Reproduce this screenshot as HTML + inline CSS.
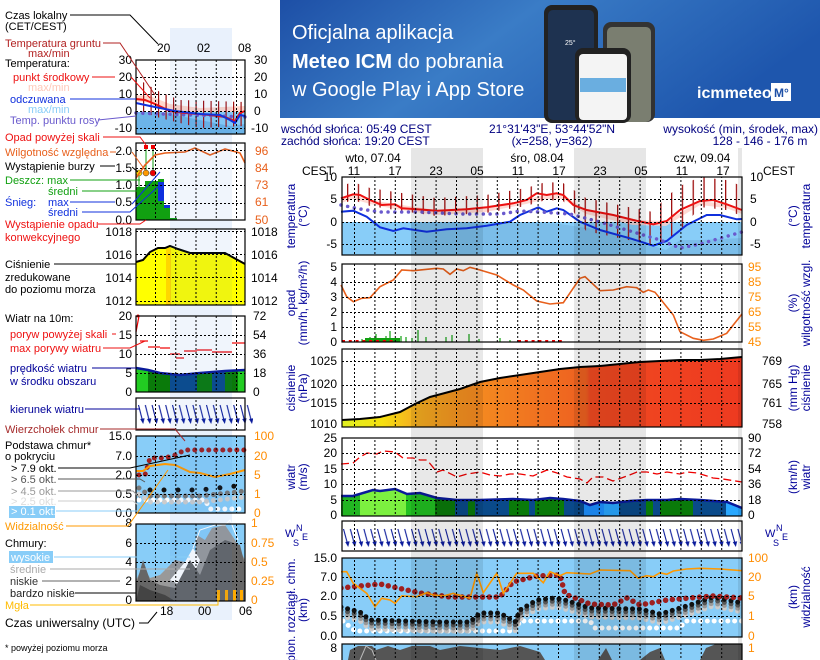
<!DOCTYPE html>
<html><head><meta charset="utf-8"><style>
html,body{margin:0;padding:0;background:#fff;}
svg{display:block;font-family:"Liberation Sans",sans-serif;}
</style></head><body>
<svg width="820" height="660" viewBox="0 0 820 660" xmlns="http://www.w3.org/2000/svg">
<defs>
<linearGradient id="ban" x1="0" y1="0" x2="1" y2="0.3"><stop offset="0" stop-color="#1d4fa6"/><stop offset="0.45" stop-color="#3a7cc6"/><stop offset="1" stop-color="#1e56ad"/></linearGradient>
<linearGradient id="pres" x1="342" y1="0" x2="742" y2="0" gradientUnits="userSpaceOnUse">
<stop offset="0" stop-color="#e0f020"/><stop offset="0.1" stop-color="#f5e010"/><stop offset="0.18" stop-color="#f5b020"/><stop offset="0.3" stop-color="#f59020"/><stop offset="0.5" stop-color="#f07020"/><stop offset="0.61" stop-color="#ee6020"/><stop offset="0.62" stop-color="#f04a20"/><stop offset="1" stop-color="#ee3a20"/></linearGradient>
<clipPath id="cw"><polygon points="341,496 353,496 373,490 380,491 395,489 407,494 420,493 437,498 457,500 480,500 513,499 533,500 550,498 563,499 580,501 590,505 600,502 613,503 630,501 647,500 667,500 680,499 700,500 727,502 742,508 742,516 341,516"/></clipPath>
<clipPath id="cwl"><polygon points="136,368 148,370 160,373 180,375 200,373 225,371 245,370 245,392 136,392"/></clipPath>
<clipPath id="mp"><rect x="342" y="177" width="400" height="78"/><rect x="342" y="264" width="400" height="78"/><rect x="342" y="349" width="400" height="78"/><rect x="342" y="438" width="400" height="78"/><rect x="342" y="521" width="400" height="30"/><rect x="342" y="558" width="400" height="79"/><rect x="342" y="644" width="400" height="16"/></clipPath>
<clipPath id="cb"><rect x="342" y="558" width="400" height="79"/></clipPath>
<clipPath id="lp"><rect x="136" y="60" width="109" height="74"/><rect x="136" y="143" width="109" height="77"/><rect x="136" y="229" width="109" height="76"/><rect x="136" y="316" width="109" height="76"/><rect x="136" y="398" width="109" height="32"/><rect x="136" y="436" width="109" height="77"/><rect x="136" y="524" width="109" height="77"/></clipPath>
<pattern id="vg" x="354" y="0" width="20.4" height="4" patternUnits="userSpaceOnUse"><rect x="0" y="0" width="1" height="2" fill="#000"/></pattern>
<pattern id="lvg" x="155" y="0" width="20.25" height="4" patternUnits="userSpaceOnUse"><rect x="0" y="0" width="1" height="2" fill="#000"/></pattern>
<pattern id="tb" x="347" y="0" width="10.8" height="10" patternUnits="userSpaceOnUse"><rect x="0" y="0" width="1.3" height="10" fill="#a01010"/></pattern>
<pattern id="ltb" x="143" y="0" width="7.5" height="10" patternUnits="userSpaceOnUse"><rect x="0" y="0" width="1.2" height="10" fill="#a01010"/></pattern>
<pattern id="arr" x="343" y="522" width="6.8" height="30" patternUnits="userSpaceOnUse"><line x1="0.5" y1="7" x2="4.3" y2="21" stroke="#0a1a9a" stroke-width="1.1"/><polygon points="5.2,25 2.2,20 6.6,19.3" fill="#0a1a9a"/></pattern>
<pattern id="larr" x="138" y="399" width="6.8" height="32" patternUnits="userSpaceOnUse"><line x1="0.5" y1="6" x2="4.3" y2="21" stroke="#0a1a9a" stroke-width="1.1"/><polygon points="5.2,25 2.2,20 6.6,19.3" fill="#0a1a9a"/></pattern>
</defs>
<rect x="280" y="0" width="540" height="118" fill="url(#ban)"/>
<text x="292" y="39" font-size="20" fill="#fff">Oficjalna aplikacja</text>
<text x="292" y="68" font-size="20" fill="#fff"><tspan font-weight="bold">Meteo ICM</tspan> do pobrania</text>
<text x="292" y="96" font-size="20" fill="#fff">w Google Play i App Store</text>
<rect x="544" y="5" width="54" height="118" rx="8" fill="#222"/><rect x="548" y="10" width="46" height="110" rx="5" fill="#1e3250"/>
<text x="565" y="45" font-size="7" fill="#fff">25°</text>
<rect x="603" y="22" width="52" height="100" rx="8" fill="#333"/><rect x="607" y="27" width="44" height="95" rx="5" fill="#7a7e70"/>
<rect x="575" y="48" width="56" height="75" rx="8" fill="#222"/><rect x="579" y="54" width="48" height="66" rx="4" fill="#f4f4f4"/>
<rect x="580" y="78" width="46" height="14" fill="#6aaee0"/>
<text x="697" y="98" font-size="16" font-weight="bold" fill="#fff">icmmeteo</text>
<rect x="771" y="83" width="20" height="18" fill="#fff"/><text x="774" y="97" font-size="12" font-weight="bold" fill="#1d4fa6">M°</text>
<g font-size="12" fill="#000080">
<text x="281" y="133">wschód słońca: 05:49 CEST</text>
<text x="281" y="145">zachód słońca: 19:20 CEST</text>
<text x="552" y="133" text-anchor="middle">21°31'43"E, 53°44'52"N</text>
<text x="552" y="145" text-anchor="middle">(x=258,  y=362)</text>
<text x="818" y="133" text-anchor="end">wysokość (min, środek, max)</text>
<text x="760" y="145" text-anchor="middle">128 - 146 - 176 m</text>
</g>
<rect x="411" y="148" width="72" height="512" fill="#e6e6e6"/><rect x="574" y="148" width="72" height="512" fill="#e6e6e6"/><rect x="738" y="148" width="4" height="512" fill="#e6e6e6"/>
<g font-size="12" fill="#000">
<text x="373" y="162" text-anchor="middle">wto, 07.04</text>
<text x="537" y="162" text-anchor="middle">śro, 08.04</text>
<text x="702" y="162" text-anchor="middle">czw, 09.04</text>
<text x="302" y="175">CEST</text><text x="763" y="175">CEST</text>
<text x="354" y="175" text-anchor="middle">11</text><text x="395" y="175" text-anchor="middle">17</text>
<text x="436" y="175" text-anchor="middle">23</text><text x="477" y="175" text-anchor="middle">05</text>
<text x="518" y="175" text-anchor="middle">11</text><text x="559" y="175" text-anchor="middle">17</text>
<text x="600" y="175" text-anchor="middle">23</text><text x="641" y="175" text-anchor="middle">05</text>
<text x="682" y="175" text-anchor="middle">11</text><text x="723" y="175" text-anchor="middle">17</text>
</g>
<rect x="170" y="28" width="62" height="592" fill="#e9f1fc"/>
<g fill="#fff">
<rect x="342" y="177" width="400" height="45"/><rect x="342" y="264" width="400" height="78"/><rect x="342" y="349" width="400" height="78"/><rect x="342" y="438" width="400" height="78"/><rect x="342" y="521" width="400" height="30"/>
<rect x="136" y="60" width="109" height="74"/><rect x="136" y="143" width="109" height="77"/><rect x="136" y="229" width="109" height="76"/><rect x="136" y="316" width="109" height="76"/><rect x="136" y="398" width="109" height="32"/>
</g>
<rect x="342" y="222" width="400" height="33" fill="#88cdf8"/>
<polygon points="411,222 483,222 520,222 560,224 600,230 630,238 653,246 666,250 680,240 700,240 742,238 742,255 411,255" fill="#7bbde9"/>
<polygon points="341,199 353,195 370,200 395,204 436,210 486,207 526,200 546,194 563,195 586,210 633,220 666,221 700,201 726,204 742,210 742,214 726,208 700,205 666,226 633,225 586,214 563,199 546,199 526,204 486,212 436,215 395,209 370,204 353,199 341,203" fill="#ffd0c8" opacity="0.8"/>
<polygon fill="url(#tb)" points="341,186 353,182 370,188 395,192 436,198 486,195 526,188 546,182 563,183 586,198 633,208 653,212 666,197 680,186 700,177 726,180 742,186 742,216 726,210 700,207 680,231 666,242 653,245 633,241 586,231 573,211 563,201 546,200 526,206 486,213 436,216 395,210 370,206 353,200 341,204"/>
<polyline fill="none" stroke="#ee1111" stroke-width="2" points="341,198.3 353.3,194.3 360,195 370,200 381.7,205 395,204.3 401.7,208.3 413.3,209 436.7,210.7 466.7,209.3 486.7,207.3 513.3,203.3 526.7,200 536.7,193.3 546.7,195 556.7,193.3 563.3,195 573.3,205 586.7,210 613.3,215 633.3,220 653.3,224.3 666.7,221 680,210 700,201 713.3,200 726.7,204.3 742,210"/>
<polyline fill="none" stroke="#1030dd" stroke-width="2" points="341,211.7 353.3,210.7 366.7,216.7 380,227.3 393.3,231 403.3,228.3 426.7,231.7 446.7,229.3 466.7,228.3 486.7,225.7 510,221.7 520,215 538.3,207.3 546.7,211.7 556.7,208.3 563.3,210 580,221.7 600,230 630,238.3 653.3,245.7 666.7,241 686.7,225 706.7,215 720,215 736.7,219.3 742,219"/>
<polyline fill="none" stroke="#6a5acd" stroke-width="3.5" stroke-linecap="round" stroke-dasharray="0.01,6.8" points="341,205 360,209 380,212 420,212 460,214 500,214 520,211 540,212 570,214 600,222 630,231 660,240 680,248 700,244 742,232"/>
<rect x="365" y="338" width="35" height="4" fill="#11a011"/>
<g stroke="#11a011" stroke-width="1.2">
<line x1="362" y1="339" x2="362" y2="342"/><line x1="370" y1="337" x2="370" y2="342"/><line x1="376" y1="334" x2="376" y2="342"/><line x1="386" y1="336" x2="386" y2="342"/><line x1="390" y1="331" x2="390" y2="342"/><line x1="401" y1="336" x2="401" y2="342"/><line x1="406" y1="337" x2="406" y2="342"/><line x1="412" y1="338" x2="412" y2="342"/><line x1="418" y1="330" x2="418" y2="342"/><line x1="426" y1="337" x2="426" y2="342"/><line x1="446" y1="337" x2="446" y2="342"/><line x1="452" y1="335" x2="452" y2="342"/><line x1="469" y1="334" x2="469" y2="342"/><line x1="479" y1="339" x2="479" y2="342"/><line x1="500" y1="338" x2="500" y2="342"/><line x1="510" y1="340" x2="510" y2="342"/></g>
<line x1="342" y1="341" x2="395" y2="341" stroke="#e00" stroke-width="2" stroke-dasharray="3,3.8"/>
<line x1="518" y1="341" x2="565" y2="341" stroke="#e00" stroke-width="2" stroke-dasharray="3,3.8"/>
<polyline fill="none" stroke="#e8601c" stroke-width="1.6" points="341,285 346.7,296.7 353.3,301.7 361.7,298.3 370,297.7 380,286.7 393.3,280 401.7,270 413.3,270.7 436.7,268.3 443.3,269 450,274.3 456.7,269 463.3,270.7 470,267.3 480,270 496.7,275 513.3,285 523.3,290 536.7,301 550,304 563.3,302.7 580,278.3 585,276.7 600,290.7 613.3,290 626.7,286.7 636.7,287.7 643.3,292.3 648.3,290 655,292.3 673.3,315 680,331.7 693.3,338.3 703.3,340.3 713.3,339 726.7,333.3 742,314"/>
<polygon fill="url(#pres)" points="342,420 360,419 380,417 400,412 415,404 430,397 445,393 460,389 480,382 500,378 520,375 540,372 560,369 580,367 600,366 620,364 640,362 660,361 680,360 700,360 720,359 742,357 742,427 342,427"/>
<polyline fill="none" stroke="#000" stroke-width="2" points="342,420 360,419 380,417 400,412 415,404 430,397 445,393 460,389 480,382 500,378 520,375 540,372 560,369 580,367 600,366 620,364 640,362 660,361 680,360 700,360 720,359 742,357"/>
<g clip-path="url(#cw)">
<rect x="341" y="480" width="20" height="40" fill="#22b522"/><rect x="360" y="480" width="47" height="40" fill="#7cf040"/><rect x="406" y="480" width="30" height="40" fill="#22c022"/>
<rect x="435" y="480" width="21" height="40" fill="#0a7a0a"/><rect x="455" y="480" width="14" height="40" fill="#0a4a8a"/><rect x="468" y="480" width="8" height="40" fill="#0a7a0a"/>
<rect x="475" y="480" width="35" height="40" fill="#0a4a8a"/><rect x="509" y="480" width="21" height="40" fill="#0a7a0a"/><rect x="529" y="480" width="7" height="40" fill="#0a4a8a"/>
<rect x="535" y="480" width="30" height="40" fill="#0a7a0a"/><rect x="564" y="480" width="21" height="40" fill="#0a4a8a"/><rect x="584" y="480" width="21" height="40" fill="#1e90ff"/>
<rect x="604" y="480" width="16" height="40" fill="#2aa8ff"/><rect x="619" y="480" width="28" height="40" fill="#0a4a8a"/><rect x="646" y="480" width="8" height="40" fill="#0a7a0a"/>
<rect x="653" y="480" width="8" height="40" fill="#0a4a8a"/><rect x="660" y="480" width="34" height="40" fill="#0a7a0a"/><rect x="693" y="480" width="34" height="40" fill="#0a4a8a"/><rect x="726" y="480" width="16" height="40" fill="#2aa8ff"/>
</g>
<polyline fill="none" stroke="#0a1a9a" stroke-width="2.5" points="341,496 353,496 373,490 380,491 395,489 407,494 420,493 437,498 457,500 480,500 513,499 533,500 550,498 563,499 580,501 590,505 600,502 613,503 630,501 647,500 667,500 680,499 700,500 727,502 742,508"/>
<polyline fill="none" stroke="#e00" stroke-width="1.3" stroke-dasharray="8,4" points="341,464 353,463 360,457 367,453 377,454 383,451 395,452 403,458 413,458 420,460 427,460 437,472 443,470 457,477 467,474 480,472 490,475 500,476 510,474 520,474 533,476 547,470 557,473 567,477 580,479 587,483 593,477 603,477 613,481 627,476 637,472 647,472 657,474 667,472 680,474 687,472 697,473 707,476 713,478 723,479 742,482"/>
<rect x="343" y="522" width="398" height="28" fill="url(#arr)"/>
<rect x="342" y="558" width="400" height="79" fill="#88cdf8"/>
<g fill="none" stroke-width="5" stroke-linecap="round" stroke-dasharray="0.01,6.8" clip-path="url(#cb)">
<polyline stroke="#fff" points="343,621 355,631 515,631 520,621 590,621 595,628 680,628 685,621 742,621"/>
<polyline stroke="#ccc" transform="translate(0,9)" points="341,607 360,612 370,620 440,622 470,622 480,613 500,613 515,622 520,610 537,600 555,598 565,600 590,608 640,609 660,614 667,612 690,605 713,597 742,603"/>
<polyline stroke="#999" transform="translate(0,6)" points="341,607 360,612 370,620 440,622 470,622 480,613 500,613 515,622 520,610 537,600 555,598 565,600 590,608 640,609 660,614 667,612 690,605 713,597 742,603"/>
<polyline stroke="#555" transform="translate(0,3)" points="341,607 360,612 370,620 440,622 470,622 480,613 500,613 515,622 520,610 537,600 555,598 565,600 590,608 640,609 660,614 667,612 690,605 713,597 742,603"/>
<polyline stroke="#111" points="341,607 360,612 370,620 440,622 470,622 480,613 500,613 515,622 520,610 537,600 555,598 565,600 590,608 640,609 660,614 667,612 690,605 713,597 742,603"/>
<polyline stroke="#a02020" stroke-width="5.5" points="341,588 380,584 420,593 450,597 500,597 513,582 537,576 560,575 565,594 590,604 613,605 627,598 640,605 667,600 713,596 742,598"/>
</g>
<polyline fill="none" stroke="#ff9900" stroke-width="1.6" points="341,571.7 346.7,571.7 353.3,583.3 366.7,593.3 375,606.7 381.7,598.3 390,600 395,603.3 401.7,596 416.7,596.7 426.7,592.7 433.3,595 443.3,596 453.3,593.3 470,598.3 476.7,573.3 483.3,592.7 496.7,573.3 503.3,593.3 516.7,573.3 533.3,573.3 543.3,582.7 550,571.7 560,575.7 566.7,572.7 590,574 600,570 630,570.7 638.3,578.3 646.7,575.7 653.3,576.7 660,572.7 666.7,574.3 673.3,571 686.7,569 700,568.3 720,569 742,570.7"/>
<rect x="342" y="644" width="400" height="16" fill="#88cdf8"/>
<polygon fill="#555" points="348,660 350,650 358,646 372,646 376,650 388,646 400,650 412,646 430,646 440,650 460,646 480,648 500,650 520,646 540,652 545,660"/>
<polygon fill="#555" points="598,660 606,648 612,660 640,660 650,652 660,648 665,660"/>
<polygon fill="#555" points="700,660 706,648 716,644 742,644 742,660"/>
<polyline fill="none" stroke="#bbb" stroke-width="1" points="360,660 366,646 372,650 376,660"/>
<g clip-path="url(#mp)">
<rect x="411" y="177" width="72" height="483" fill="#000" opacity="0.09"/><rect x="574" y="177" width="72" height="483" fill="#000" opacity="0.09"/><rect x="738" y="177" width="4" height="483" fill="#000" opacity="0.09"/>
<rect x="342" y="177" width="400" height="483" fill="url(#vg)"/>
</g>
<g stroke="#000" stroke-dasharray="2,2" stroke-width="1">
<line x1="342" y1="199.5" x2="742" y2="199.5"/><line x1="342" y1="222.5" x2="742" y2="222.5"/><line x1="342" y1="244.5" x2="742" y2="244.5"/>
<line x1="342" y1="282.5" x2="742" y2="282.5"/><line x1="342" y1="297.5" x2="742" y2="297.5"/><line x1="342" y1="312.5" x2="742" y2="312.5"/><line x1="342" y1="327.5" x2="742" y2="327.5"/>
<line x1="342" y1="361.5" x2="742" y2="361.5"/><line x1="342" y1="385.5" x2="742" y2="385.5"/><line x1="342" y1="403.5" x2="742" y2="403.5"/>
<line x1="342" y1="453.5" x2="742" y2="453.5"/><line x1="342" y1="469.5" x2="742" y2="469.5"/><line x1="342" y1="484.5" x2="742" y2="484.5"/><line x1="342" y1="500.5" x2="742" y2="500.5"/>
<line x1="342" y1="577.5" x2="742" y2="577.5"/><line x1="342" y1="596.5" x2="742" y2="596.5"/><line x1="342" y1="616.5" x2="742" y2="616.5"/>
</g>
<g fill="none" stroke="#000" stroke-width="1.2">
<rect x="342" y="177" width="400" height="78"/><rect x="342" y="264" width="400" height="78"/><rect x="342" y="349" width="400" height="78"/><rect x="342" y="438" width="400" height="78"/><rect x="342" y="521" width="400" height="30"/><rect x="342" y="558" width="400" height="79"/><rect x="342" y="644" width="400" height="30"/>
</g>
<g font-size="12" fill="#000">
<text x="337" y="181" text-anchor="end">10</text><text x="337" y="203" text-anchor="end">5</text><text x="337" y="226" text-anchor="end">0</text><text x="337" y="248" text-anchor="end">-5</text>
<text x="750" y="181">10</text><text x="750" y="203">5</text><text x="750" y="226">0</text><text x="750" y="248">-5</text>
<text x="337" y="271" text-anchor="end">5</text><text x="337" y="286" text-anchor="end">4</text><text x="337" y="301" text-anchor="end">3</text><text x="337" y="316" text-anchor="end">2</text><text x="337" y="331" text-anchor="end">1</text><text x="337" y="346" text-anchor="end">0</text>
<text x="337" y="365" text-anchor="end">1025</text><text x="337" y="388" text-anchor="end">1020</text><text x="337" y="407" text-anchor="end">1015</text><text x="337" y="428" text-anchor="end">1010</text>
<text x="762" y="365">769</text><text x="762" y="388">765</text><text x="762" y="407">761</text><text x="762" y="428">758</text>
<text x="337" y="442" text-anchor="end">25</text><text x="337" y="457" text-anchor="end">20</text><text x="337" y="473" text-anchor="end">15</text><text x="337" y="488" text-anchor="end">10</text><text x="337" y="504" text-anchor="end">5</text><text x="337" y="519" text-anchor="end">0</text>
<text x="748" y="442">90</text><text x="748" y="457">72</text><text x="748" y="473">54</text><text x="748" y="488">36</text><text x="748" y="504">18</text><text x="748" y="519">0</text>
<text x="337" y="562" text-anchor="end">15.0</text><text x="337" y="581" text-anchor="end">7.0</text><text x="337" y="600" text-anchor="end">2.0</text><text x="337" y="620" text-anchor="end">0.5</text><text x="337" y="640" text-anchor="end">0.0</text>
<text x="337" y="652" text-anchor="end">8</text>
</g>
<g font-size="12" fill="#ff8c00">
<text x="748" y="271">95</text><text x="748" y="286">85</text><text x="748" y="301">75</text><text x="748" y="316">65</text><text x="748" y="331">55</text><text x="748" y="346">45</text>
<text x="748" y="562">100</text><text x="748" y="581">20</text><text x="748" y="600">5</text><text x="748" y="620">1</text><text x="748" y="640">0</text><text x="748" y="652">1</text>
</g>
<g font-size="12" fill="#000099" text-anchor="middle">
<text transform="translate(295,216) rotate(-90)">temperatura</text><text transform="translate(307,216) rotate(-90)">(°C)</text>
<text transform="translate(797,216) rotate(-90)">(°C)</text><text transform="translate(810,216) rotate(-90)">temperatura</text>
<text transform="translate(295,303) rotate(-90)">opad</text><text transform="translate(307,303) rotate(-90)">(mm/h, kg/m²/h)</text>
<text transform="translate(797,303) rotate(-90)">(%)</text><text transform="translate(810,303) rotate(-90)">wilgotność wzgl.</text>
<text transform="translate(295,388) rotate(-90)">ciśnienie</text><text transform="translate(307,388) rotate(-90)">(hPa)</text>
<text transform="translate(797,388) rotate(-90)">(mm Hg)</text><text transform="translate(810,388) rotate(-90)">ciśnienie</text>
<text transform="translate(295,477) rotate(-90)">wiatr</text><text transform="translate(307,477) rotate(-90)">(m/s)</text>
<text transform="translate(797,477) rotate(-90)">(km/h)</text><text transform="translate(810,477) rotate(-90)">wiatr</text>
<text transform="translate(295,610) rotate(-90)">pion. rozciągł. chm.</text><text transform="translate(307,610) rotate(-90)">(km)</text>
<text transform="translate(797,597) rotate(-90)">(km)</text><text transform="translate(810,597) rotate(-90)">widzialność</text>
</g>
<g font-size="11" fill="#000099"><text x="285" y="537">W</text><text x="296" y="531" font-size="9">N</text><text x="293" y="546" font-size="9">S</text><text x="302" y="540" font-size="9">E</text>
<text x="765" y="537">W</text><text x="776" y="531" font-size="9">N</text><text x="773" y="546" font-size="9">S</text><text x="782" y="540" font-size="9">E</text></g>

<polygon points="136,95 150,96 170,104 200,108 245,106 245,118 200,117 170,113 150,103 136,101" fill="#ffd8cc"/>
<polygon points="136,112 245,112 245,134 136,134" fill="#88cdf8"/>
<polygon points="136,112 160,112 200,120 230,126 245,124 245,134 136,134" fill="#6cb4e8"/>
<polygon fill="url(#ltb)" points="136,78 160,92 180,100 245,102 245,126 200,128 160,118 136,110"/>
<polyline fill="none" stroke="#6a5acd" stroke-width="3.5" stroke-linecap="round" stroke-dasharray="0.01,6.8" points="136,113 245,117"/>
<polyline fill="none" stroke="#ee1111" stroke-width="2" points="136,99 145,100 155,104 170,111 185,113 210,115 225,117 235,121 240,113 245,111"/>
<polyline fill="none" stroke="#1030dd" stroke-width="2" points="136,103 150,106 165,109 175,111 200,114 220,115 230,120 235,123 240,115 245,116"/>
<rect x="136" y="187" width="9" height="33" fill="#11a011"/><rect x="145" y="181" width="13" height="39" fill="#11a011"/><rect x="158" y="179" width="6" height="41" fill="#11a011"/>
<rect x="158" y="182" width="6" height="19" fill="#1030dd"/><rect x="164" y="205" width="6" height="15" fill="#11a011"/><rect x="164" y="205" width="6" height="3" fill="#1030dd"/><rect x="170" y="218" width="7" height="2" fill="#11a011"/>
<line x1="146" y1="147" x2="146" y2="173" stroke="#11a011"/><line x1="153" y1="147" x2="153" y2="173" stroke="#11a011"/><line x1="139" y1="173" x2="139" y2="187" stroke="#11a011"/>
<rect x="144" y="145" width="4" height="4" fill="#e00"/><rect x="151" y="145" width="4" height="4" fill="#e00"/>
<circle cx="139" cy="173" r="3" fill="#ffdd00" stroke="#333" stroke-width=".5"/><circle cx="146" cy="173" r="3" fill="#ff9900" stroke="#333" stroke-width=".5"/><circle cx="153" cy="173" r="3" fill="#e00" stroke="#333" stroke-width=".5"/>
<polyline fill="none" stroke="#e8601c" stroke-width="1.6" points="136,178 145,165 155,155 165,153 185,152 195,148 210,155 225,149 240,153 245,163"/>
<polygon fill="#ffff00" points="136,262 143,260 150,252 158,248 165,248 170,246 178,249 190,253 225,253 245,264 245,305 136,305"/>
<rect x="166" y="248" width="5" height="57" fill="#ffd700"/>
<polyline fill="none" stroke="#000" stroke-width="2" points="136,262 143,260 150,252 158,248 165,248 170,246 178,249 190,253 225,253 245,264"/>
<g clip-path="url(#cwl)">
<rect x="136" y="360" width="12" height="35" fill="#22cc22"/><rect x="148" y="360" width="22" height="35" fill="#0a7a0a"/><rect x="170" y="360" width="27" height="35" fill="#0a4a8a"/>
<rect x="197" y="360" width="15" height="35" fill="#0a7a0a"/><rect x="212" y="360" width="13" height="35" fill="#0a4a8a"/><rect x="225" y="360" width="13" height="35" fill="#0a7a0a"/><rect x="238" y="360" width="7" height="35" fill="#22cc22"/>
</g>
<polyline fill="none" stroke="#0a1a9a" stroke-width="2.5" points="136,368 148,370 160,373 180,375 200,373 225,371 245,370"/>
<g stroke="#e00" stroke-width="1.2"><line x1="136" y1="332" x2="139" y2="316"/><line x1="140" y1="341" x2="148" y2="341"/><line x1="148" y1="347" x2="160" y2="347"/><line x1="160" y1="348" x2="170" y2="348"/><line x1="170" y1="354" x2="180" y2="354"/><line x1="176" y1="358" x2="184" y2="358"/><line x1="184" y1="351" x2="197" y2="351"/><line x1="197" y1="350" x2="212" y2="350"/><line x1="212" y1="352" x2="232" y2="352"/><line x1="232" y1="343" x2="245" y2="343"/></g>
<circle cx="138" cy="316" r="1.5" fill="#e00"/>
<rect x="138" y="399" width="115" height="31" fill="url(#larr)"/>
<rect x="136" y="436" width="109" height="77" fill="#88cdf8"/>
<g fill="none" stroke-width="5" stroke-linecap="round" stroke-dasharray="0.01,7">
<polyline stroke="#fff" points="139,500 205,500 210,509 245,509"/>
<polyline stroke="#ccc" points="139,494 150,502 200,502 245,497"/>
<polyline stroke="#777" points="139,488 150,496 200,496 245,491"/>
<polyline stroke="#111" stroke-dasharray="0.01,14" points="150,490 200,490 245,485"/>
<polyline stroke="#a02020" points="139,475 145,475 150,458 165,458 175,455 185,450 245,450"/>
</g>
<polyline fill="none" stroke="#ff9900" stroke-width="2" points="136,471 143,471 150,466 165,464 175,465 190,472 200,473 215,477 230,474 245,470"/>
<rect x="136" y="524" width="109" height="77" fill="#88cdf8"/>
<polygon fill="#999" points="136,580 143,566 150,578 160,575 175,560 185,562 193,575 197,535 205,540 212,528 225,525 235,540 245,560 245,601 136,601"/>
<polygon fill="#fff" points="170,580 185,562 193,548 200,560 193,575 180,585"/>
<polygon fill="#666" points="136,601 136,585 143,560 150,580 160,585 175,588 190,560 200,575 210,550 225,540 240,545 245,565 245,601"/>
<polygon fill="#444" points="136,601 140,585 150,590 165,595 175,601"/>
<polyline fill="none" stroke="#fff" stroke-width="1" points="193,548 200,530 215,525 225,525 230,520 238,540"/>
<g fill="#ffaa00"><rect x="217" y="590" width="3" height="11"/><rect x="225" y="590" width="3" height="11"/><rect x="233" y="590" width="3" height="11"/><rect x="240" y="590" width="3" height="11"/></g>
<g clip-path="url(#lp)">
<rect x="170" y="60" width="62" height="541" fill="#3070d0" opacity="0.07"/>
<rect x="136" y="60" width="109" height="541" fill="url(#lvg)"/>
</g>
<g stroke="#000" stroke-dasharray="2,2">
<line x1="136" y1="77.5" x2="245" y2="77.5"/><line x1="136" y1="94.5" x2="245" y2="94.5"/><line x1="136" y1="111.5" x2="245" y2="111.5"/><line x1="136" y1="128.5" x2="245" y2="128.5"/>
<line x1="136" y1="150.5" x2="245" y2="150.5"/><line x1="136" y1="168.5" x2="245" y2="168.5"/><line x1="136" y1="185.5" x2="245" y2="185.5"/><line x1="136" y1="203.5" x2="245" y2="203.5"/>
<line x1="136" y1="231.5" x2="245" y2="231.5"/><line x1="136" y1="254.5" x2="245" y2="254.5"/><line x1="136" y1="277.5" x2="245" y2="277.5"/><line x1="136" y1="301.5" x2="245" y2="301.5"/>
<line x1="136" y1="335.5" x2="245" y2="335.5"/><line x1="136" y1="354.5" x2="245" y2="354.5"/><line x1="136" y1="373.5" x2="245" y2="373.5"/>
<line x1="136" y1="456.5" x2="245" y2="456.5"/><line x1="136" y1="475.5" x2="245" y2="475.5"/><line x1="136" y1="494.5" x2="245" y2="494.5"/>
<line x1="136" y1="543.5" x2="245" y2="543.5"/><line x1="136" y1="562.5" x2="245" y2="562.5"/><line x1="136" y1="581.5" x2="245" y2="581.5"/>
</g>
<g fill="none" stroke="#000" stroke-width="1.2">
<rect x="136" y="60" width="109" height="74"/><rect x="136" y="143" width="109" height="77"/><rect x="136" y="229" width="109" height="76"/><rect x="136" y="316" width="109" height="76"/><rect x="136" y="398" width="109" height="32"/><rect x="136" y="436" width="109" height="77"/><rect x="136" y="524" width="109" height="77"/>
</g>
<g font-size="12" fill="#000">
<text x="157" y="52">20</text><text x="197" y="52">02</text><text x="238" y="52">08</text>
<text x="132" y="64" text-anchor="end">30</text><text x="132" y="81" text-anchor="end">20</text><text x="132" y="98" text-anchor="end">10</text><text x="132" y="115" text-anchor="end">0</text><text x="132" y="132" text-anchor="end">-10</text>
<text x="254" y="64">30</text><text x="254" y="81">20</text><text x="254" y="98">10</text><text x="254" y="115">0</text><text x="251" y="132">-10</text>
<text x="132" y="155" text-anchor="end">2.0</text><text x="132" y="172" text-anchor="end">1.5</text><text x="132" y="189" text-anchor="end">1.0</text><text x="132" y="206" text-anchor="end">0.5</text><text x="132" y="224" text-anchor="end">0.0</text>
<text x="132" y="236" text-anchor="end">1018</text><text x="132" y="259" text-anchor="end">1016</text><text x="132" y="282" text-anchor="end">1014</text><text x="132" y="305" text-anchor="end">1012</text>
<text x="251" y="236">1018</text><text x="251" y="259">1016</text><text x="251" y="282">1014</text><text x="251" y="305">1012</text>
<text x="132" y="320" text-anchor="end">20</text><text x="132" y="339" text-anchor="end">15</text><text x="132" y="358" text-anchor="end">10</text><text x="132" y="377" text-anchor="end">5</text><text x="132" y="396" text-anchor="end">0</text>
<text x="253" y="320">72</text><text x="253" y="339">54</text><text x="253" y="358">36</text><text x="253" y="377">18</text><text x="253" y="396">0</text>
<text x="132" y="440" text-anchor="end">15.0</text><text x="132" y="460" text-anchor="end">7.0</text><text x="132" y="479" text-anchor="end">2.0</text><text x="132" y="498" text-anchor="end">0.5</text><text x="132" y="517" text-anchor="end">0.0</text>
<text x="132" y="527" text-anchor="end">8</text><text x="132" y="547" text-anchor="end">6</text><text x="132" y="566" text-anchor="end">4</text><text x="132" y="585" text-anchor="end">2</text><text x="132" y="604" text-anchor="end">0</text>
<text x="160" y="615">18</text><text x="198" y="615">00</text><text x="239" y="615">06</text>
</g>
<g font-size="12">
<text x="255" y="155" fill="#e8601c">96</text><text x="255" y="172" fill="#e8601c">84</text><text x="255" y="189" fill="#e8601c">73</text><text x="255" y="206" fill="#e8601c">61</text><text x="255" y="224" fill="#e8601c">50</text>
<text x="254" y="440" fill="#ff8c00">100</text><text x="254" y="460" fill="#ff8c00">20</text><text x="254" y="479" fill="#ff8c00">5</text><text x="254" y="498" fill="#ff8c00">1</text><text x="254" y="517" fill="#ff8c00">0</text>
<text x="251" y="527" fill="#ff8c00">1</text><text x="251" y="547" fill="#ff8c00">0.75</text><text x="251" y="566" fill="#ff8c00">0.5</text><text x="251" y="585" fill="#ff8c00">0.25</text><text x="251" y="604" fill="#ff8c00">0</text>
</g>
<g font-size="11">
<text x="5" y="19">Czas lokalny</text><text x="5" y="30">(CET/CEST)</text>
<text x="5" y="47" fill="#b22222">Temperatura gruntu</text><text x="28" y="57" fill="#b22222">max/min</text>
<text x="5" y="67">Temperatura:</text>
<text x="13" y="81" fill="#ee1111">punkt środkowy</text>
<text x="28" y="91" fill="#ffc8b8">max/min</text>
<text x="10" y="103" fill="#1030dd">odczuwana</text>
<text x="28" y="113" fill="#88cdf8">max/min</text>
<text x="10" y="124" fill="#6a5acd">Temp. punktu rosy</text>
<text x="5" y="141" fill="#ee1111">Opad powyżej skali</text>
<text x="5" y="156" fill="#e8601c">Wilgotność względna</text>
<text x="5" y="170">Wystąpienie burzy</text>
<text x="5" y="184" fill="#11a011">Deszcz: max</text><text x="48" y="195" fill="#11a011">średni</text>
<text x="5" y="206" fill="#1030dd">Śnieg:</text><text x="48" y="206" fill="#1030dd">max</text><text x="48" y="216" fill="#1030dd">średni</text>
<text x="5" y="228" fill="#ee1111">Wystąpienie opadu</text><text x="5" y="241" fill="#ee1111">konwekcyjnego</text>
<text x="5" y="268">Ciśnienie</text><text x="5" y="281">zredukowane</text><text x="5" y="293">do poziomu morza</text>
<text x="5" y="322">Wiatr na 10m:</text>
<text x="10" y="338" fill="#ee1111">poryw powyżej skali</text><text x="10" y="352" fill="#ee1111">max porywy wiatru</text>
<text x="10" y="372" fill="#000099">prędkość wiatru</text><text x="10" y="385" fill="#000099">w środku obszaru</text>
<text x="10" y="413" fill="#000099">kierunek wiatru</text>
<text x="5" y="433" fill="#a52a2a">Wierzchołek chmur</text>
<text x="5" y="449">Podstawa chmur*</text><text x="5" y="460">o pokryciu</text>
<text x="11" y="472">&gt; 7.9 okt.</text>
<text x="11" y="483" fill="#555">&gt; 6.5 okt.</text><text x="11" y="495" fill="#999">&gt; 4.5 okt.</text><text x="11" y="505" fill="#ddd">&gt; 2.5 okt.</text>
<rect x="9" y="506" width="46" height="12" fill="#88cdf8"/><text x="11" y="515" fill="#fff">&gt; 0.1 okt.</text>
<text x="5" y="530" fill="#ff9900">Widzialność</text>
<text x="5" y="547">Chmury:</text>
<rect x="9" y="551" width="44" height="12" fill="#88cdf8"/><text x="11" y="561" fill="#fff">wysokie</text>
<text x="10" y="573" fill="#aaa">średnie</text>
<text x="10" y="585" fill="#333">niskie</text><text x="10" y="597" fill="#222">bardzo niskie</text>
<text x="5" y="609" fill="#ffbb00">Mgła</text>
<text x="5" y="627" font-size="12">Czas uniwersalny (UTC)</text>
<text x="5" y="651" font-size="9">* powyżej poziomu morza</text>
</g>
<g fill="none" stroke-width="1">
<polyline stroke="#000" points="70,15 130,15 158,44"/>
<polyline stroke="#b22222" points="103,43 120,43 155,95"/>
<polyline stroke="#ee1111" points="92,77 115,77"/><polyline stroke="#ee1111" points="131,77 150,98"/>
<polyline stroke="#1030dd" points="70,99 136,99"/><polyline stroke="#6a5acd" points="98,120 136,116"/>
<polyline stroke="#ee1111" points="103,137 140,137 146,145"/>
<polyline stroke="#e8601c" points="110,152 116,152"/><polyline stroke="#e8601c" points="132,152 145,170"/>
<polyline stroke="#000" points="100,166 115,166"/><polyline stroke="#000" points="132,167 138,172"/>
<polyline stroke="#11a011" points="70,180 140,180"/><polyline stroke="#11a011" points="82,191 150,191"/>
<polyline stroke="#1030dd" points="70,202 115,202"/><polyline stroke="#1030dd" points="132,204 160,172"/><polyline stroke="#1030dd" points="82,212 130,212 160,185"/>
<polyline stroke="#ee1111" points="98,224 140,224 146,220"/>
<polyline stroke="#000" points="54,264 136,264"/>
<polyline stroke="#ee1111" points="112,334 116,334"/><polyline stroke="#ee1111" points="103,348 130,348 145,341"/>
<polyline stroke="#000099" points="92,368 136,368"/><polyline stroke="#000099" points="85,409 140,409"/>
<polyline stroke="#a52a2a" points="100,429 175,429 185,441"/>
<polyline stroke="#000" points="58,468 130,468 190,455"/><polyline stroke="#555" points="58,479 140,479 145,482"/>
<polyline stroke="#999" points="58,491 133,491 140,498"/><polyline stroke="#ccc" points="58,501 133,501 138,505"/>
<polyline stroke="#88cdf8" points="56,511 140,511"/>
<polyline stroke="#ff9900" points="66,526 128,526 168,470"/>
<polyline stroke="#88cdf8" points="54,557 190,557"/><polyline stroke="#aaa" points="50,569 190,569"/><polyline stroke="#666" points="42,581 120,581"/><polyline stroke="#000" points="75,593 136,593"/>
<polyline stroke="#ffbb00" points="30,605 218,605 218,595"/>
<polyline stroke="#000" points="139,623 148,623 157,612"/>
</g>
</svg>
</body></html>
